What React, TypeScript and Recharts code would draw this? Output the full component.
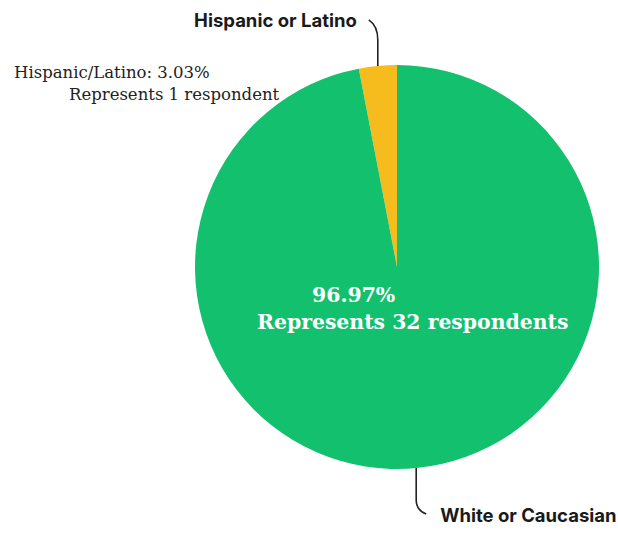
import { PieChart, Pie, Cell } from "recharts";

const categories = ["Hispanic or Latino", "White or Caucasian"];
const respondents = [1, 32];
const percents = ["3.03%", "96.97%"];
const colors = ["#F6BC1E", "#12C06E"];

const data = categories.map((name, i) => ({
  name,
  value: respondents[i],
  pct: percents[i],
}));

const RAD = Math.PI / 180;
const sans = "Inter, 'Open Sans', sans-serif";
const serif = "'DejaVu Serif', serif";

function renderLabel(p: any) {
  const ex = p.cx + p.outerRadius * Math.cos(-p.midAngle * RAD);
  const ey = p.cy + p.outerRadius * Math.sin(-p.midAngle * RAD);
  const d = data[p.index];

  if (p.index === 0) {
    return (
      <g>
        <path
          d={`M ${ex} ${ey} L ${ex} ${ey - 26} Q ${ex} ${ey - 40} ${ex - 9} ${ey - 46}`}
          stroke="#222"
          strokeWidth={1.6}
          fill="none"
        />
        <text x={ex - 21} y={ey - 39} textAnchor="end" fontFamily={sans} fontWeight={700} fontSize={18.5} fill="#1a1a1a">
          {d.name}
        </text>
        <text x={14} y={78} fontFamily={serif} fontSize={16.5} fill="#222">
          {`Hispanic/Latino: ${d.pct}`}
        </text>
        <text x={69} y={100} fontFamily={serif} fontSize={16.5} fill="#222">
          {`Represents ${d.value} respondent`}
        </text>
      </g>
    );
  }
  return (
    <g>
      <path
        d={`M ${ex} ${ey} L ${ex} ${ey + 32} Q ${ex} ${ey + 42} ${ex + 10} ${ey + 46}`}
        stroke="#222"
        strokeWidth={1.6}
        fill="none"
      />
      <text x={ex + 24} y={ey + 54} fontFamily={sans} fontWeight={700} fontSize={18.5} fill="#1a1a1a">
        {d.name}
      </text>
      <text x={312} y={302} fontFamily={serif} fontWeight={700} fontSize={20.4} fill="#ffffff">
        {d.pct}
      </text>
      <text x={257} y={329} fontFamily={serif} fontWeight={700} fontSize={20.4} fill="#ffffff">
        {`Represents ${d.value} respondents`}
      </text>
    </g>
  );
}

export default function App() {
  return (
    <div style={{ position: "absolute", left: 0, top: 0, width: 618, height: 534, background: "#fff" }}>
      <PieChart width={618} height={534}>
        <Pie
          data={data}
          dataKey="value"
          nameKey="name"
          cx={392}
          cy={262}
          outerRadius={202}
          startAngle={90}
          endAngle={450}
          stroke="none"
          label={renderLabel}
          labelLine={false}
          isAnimationActive={false}
        >
          {data.map((d, i) => (
            <Cell key={d.name} fill={colors[i]} />
          ))}
        </Pie>
      </PieChart>
    </div>
  );
}
